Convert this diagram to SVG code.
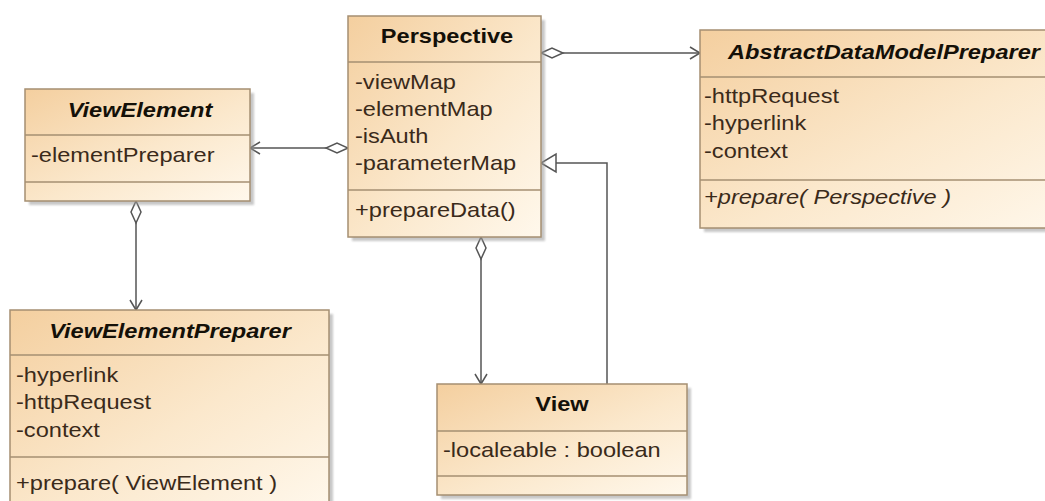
<svg xmlns="http://www.w3.org/2000/svg" width="1045" height="501" viewBox="0 0 1045 501">
  <defs>
    <linearGradient id="classFill" x1="0" y1="0" x2="1" y2="1">
      <stop offset="0" stop-color="#F4CF9F"/>
      <stop offset="0.55" stop-color="#FBE8CC"/>
      <stop offset="1" stop-color="#FFF8EC"/>
    </linearGradient>
    <filter id="soft" x="-10%" y="-10%" width="130%" height="130%">
      <feGaussianBlur stdDeviation="1.2"/>
    </filter>
    <marker id="diamond" markerUnits="userSpaceOnUse" viewBox="-1 -7 25 14" refX="0" refY="0" markerWidth="25" markerHeight="14" orient="auto">
      <path d="M0,0 L11,-5 L22,0 L11,5 Z" fill="#ffffff" stroke="#555" stroke-width="1.5"/>
    </marker>
    <marker id="open" markerUnits="userSpaceOnUse" viewBox="-12 -8 14 16" refX="0" refY="0" markerWidth="14" markerHeight="16" orient="auto">
      <path d="M-10,-6 L0,0 L-10,6" fill="none" stroke="#555" stroke-width="1.5"/>
    </marker>
    <marker id="triangle" markerUnits="userSpaceOnUse" viewBox="-17 -11 19 22" refX="0" refY="0" markerWidth="19" markerHeight="22" orient="auto">
      <path d="M0,0 L-15,-9 L-15,9 Z" fill="#ffffff" stroke="#555" stroke-width="1.5"/>
    </marker>
  </defs>
  <style>
    .shadow { fill: #9a9a9a; opacity: 0.55; filter: url(#soft); }
    .box { fill: url(#classFill); stroke: #A58F72; stroke-width: 1.5; }
    .sep { stroke: #A58F72; stroke-width: 1.5; }
    text { font-family: "Liberation Sans", Arial, sans-serif; font-size: 20px; }
    .title { font-weight: bold; fill: #141008; text-anchor: middle; }
    .abstract { font-style: italic; }
    .member { fill: #3A2A1A; }
    .conn { fill: none; stroke: #555; stroke-width: 1.5; }
  </style>

  <rect width="1045" height="501" fill="#ffffff"/>

  <!-- connectors -->
  <g id="connectors">
    <path class="conn" d="M541,53 H700" marker-start="url(#diamond)" marker-end="url(#open)"/>
    <path class="conn" d="M348,148 H250" marker-start="url(#diamond)" marker-end="url(#open)"/>
    <path class="conn" d="M136,201 V310" marker-start="url(#diamond)" marker-end="url(#open)"/>
    <path class="conn" d="M481,237 V384" marker-start="url(#diamond)" marker-end="url(#open)"/>
    <path class="conn" d="M607,384 V163 H541" marker-end="url(#triangle)"/>
  </g>

  <!-- Perspective -->
  <g id="perspective">
    <rect class="shadow" x="352" y="20" width="193" height="221"/>
    <rect class="box" x="348" y="16" width="193" height="221"/>
    <line class="sep" x1="348" y1="62" x2="541" y2="62"/>
    <line class="sep" x1="348" y1="190" x2="541" y2="190"/>
    <text class="title" transform="translate(447,43) scale(1.18,1)">Perspective</text>
    <text class="member" transform="translate(355,89) scale(1.18,1)">-viewMap</text>
    <text class="member" transform="translate(355,116) scale(1.18,1)">-elementMap</text>
    <text class="member" transform="translate(355,143) scale(1.18,1)">-isAuth</text>
    <text class="member" transform="translate(355,170) scale(1.18,1)">-parameterMap</text>
    <text class="member" transform="translate(355,217) scale(1.18,1)">+prepareData()</text>
  </g>

  <!-- AbstractDataModelPreparer -->
  <g id="abstract-data-model-preparer">
    <rect class="shadow" x="704" y="34" width="380" height="198"/>
    <rect class="box" x="700" y="30" width="380" height="198"/>
    <line class="sep" x1="700" y1="77" x2="1080" y2="77"/>
    <line class="sep" x1="700" y1="180" x2="1080" y2="180"/>
    <text class="title abstract" transform="translate(884,59) scale(1.18,1)">AbstractDataModelPreparer</text>
    <text class="member" transform="translate(704,103) scale(1.18,1)">-httpRequest</text>
    <text class="member" transform="translate(704,130) scale(1.18,1)">-hyperlink</text>
    <text class="member" transform="translate(704,158) scale(1.18,1)">-context</text>
    <text class="member abstract" transform="translate(704,204) scale(1.18,1)">+prepare( Perspective )</text>
  </g>

  <!-- ViewElement -->
  <g id="view-element">
    <rect class="shadow" x="29" y="93" width="225" height="112"/>
    <rect class="box" x="25" y="89" width="225" height="112"/>
    <line class="sep" x1="25" y1="135" x2="250" y2="135"/>
    <line class="sep" x1="25" y1="182" x2="250" y2="182"/>
    <text class="title abstract" transform="translate(140,117) scale(1.18,1)">ViewElement</text>
    <text class="member" transform="translate(31,162) scale(1.18,1)">-elementPreparer</text>
  </g>

  <!-- ViewElementPreparer -->
  <g id="view-element-preparer">
    <rect class="shadow" x="14" y="314" width="319" height="200"/>
    <rect class="box" x="10" y="310" width="319" height="200"/>
    <line class="sep" x1="10" y1="355" x2="329" y2="355"/>
    <line class="sep" x1="10" y1="457" x2="329" y2="457"/>
    <text class="title abstract" transform="translate(170,338) scale(1.18,1)">ViewElementPreparer</text>
    <text class="member" transform="translate(16,382) scale(1.18,1)">-hyperlink</text>
    <text class="member" transform="translate(16,409) scale(1.18,1)">-httpRequest</text>
    <text class="member" transform="translate(16,437) scale(1.18,1)">-context</text>
    <text class="member" transform="translate(16,490) scale(1.18,1)">+prepare( ViewElement )</text>
  </g>

  <!-- View -->
  <g id="view">
    <rect class="shadow" x="441" y="388" width="250" height="111"/>
    <rect class="box" x="437" y="384" width="250" height="111"/>
    <line class="sep" x1="437" y1="431" x2="687" y2="431"/>
    <line class="sep" x1="437" y1="476" x2="687" y2="476"/>
    <text class="title" transform="translate(562,411) scale(1.18,1)">View</text>
    <text class="member" transform="translate(443,457) scale(1.18,1)">-localeable : boolean</text>
  </g>
</svg>
